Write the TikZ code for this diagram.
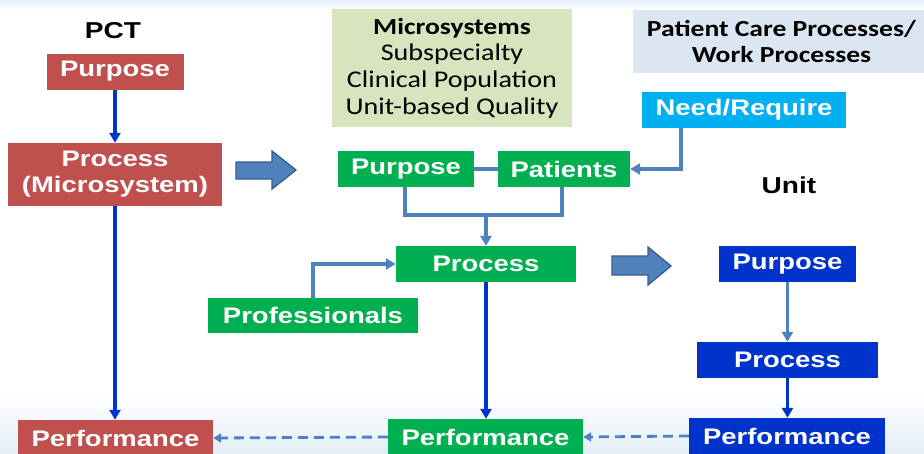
\documentclass[tikz,border=0pt]{standalone}
\usepackage{fontspec}
\usetikzlibrary{arrows.meta}
\newfontfamily\labfont[FakeStretch=1.22]{Liberation Sans}
\newfontfamily\calfont[FakeStretch=1.17]{Carlito}
\newfontfamily\calbfont[FakeStretch=1.2]{Carlito}
\definecolor{pctred}{HTML}{C0504D}
\definecolor{mgreen}{HTML}{00B050}
\definecolor{ncyan}{HTML}{00B0F0}
\definecolor{ublue}{HTML}{0033CC}
\definecolor{lblue}{HTML}{4F81BD}
\definecolor{dblue}{HTML}{385D8A}
\definecolor{olive}{HTML}{D7E4BD}
\definecolor{pale}{HTML}{DCE6F2}
\definecolor{glow}{HTML}{E4EEF8}
\tikzset{
  x=1pt, y=-1pt,
  box/.style={draw=none, inner sep=0pt, text=white, align=center,
    font=\labfont\bfseries\fontsize{22.5}{26}\selectfont, minimum height=36pt},
  redbox/.style={box, fill=pctred},
  greenbox/.style={box, fill=mgreen},
  bluebox/.style={box, fill=ublue},
  title/.style={inner sep=0pt, text=black, font=\labfont\bfseries\fontsize{23}{26}\selectfont},
  darkconn/.style={draw=ublue, line width=3.5pt, -{Triangle[length=10pt,width=11pt]}},
  lightconn/.style={draw=lblue, line width=3.5pt, -{Triangle[length=10pt,width=11pt]}},
  lightline/.style={draw=lblue, line width=3.5pt},
  dashconn/.style={draw=lblue, line width=2.8pt, dash pattern=on 10pt off 6pt, -{Triangle[length=8pt,width=9pt]}},
  blockarrow/.style={fill=lblue, draw=dblue, line width=1.3pt, line join=miter}
}
\begin{document}
\begin{tikzpicture}
\useasboundingbox (0,0) rectangle (924,453);
\fill[white] (0,0) rectangle (924,453);
\shade[top color=glow, bottom color=white] (0,0) rectangle (924,10);
\shade[top color=white, bottom color=glow] (0,395) rectangle (924,453);

% titles
\node[title] (pct) at (113,31) {PCT};
\node[title] (unit) at (789,185) {Unit};

% info boxes
\node[fill=olive, inner sep=0pt, minimum width=240pt, minimum height=118pt, align=center,
  font=\calfont\fontsize{24}{26.7}\selectfont] (micro) at (452,68)
  {{\calbfont\bfseries\fontsize{23}{26.7}\selectfont Microsystems}\\Subspecialty\\Clinical Population\\Unit-based Quality};
\node[fill=pale, inner sep=0pt, minimum width=297pt, minimum height=63pt, align=center,
  font=\calbfont\bfseries\fontsize{23}{26}\selectfont] (pcare) at (781.5,41.5)
  {Patient Care Processes/\\Work Processes};

% PCT column
\node[redbox, minimum width=137pt] (rpurp) at (115,71.5) {Purpose};
\node[redbox, minimum width=214pt, minimum height=63pt] (rproc) at (115,174.5) {Process\\(Microsystem)};
\node[redbox, minimum width=195pt] (rperf) at (115.5,438) {Performance};

% Microsystem column
\node[greenbox, minimum width=136pt] (gpurp) at (406,169) {Purpose};
\node[greenbox, minimum width=132pt] (gpat) at (564,169) {Patients};
\node[box, fill=ncyan, minimum width=204pt] (need) at (744,110) {Need/Require};
\node[greenbox, minimum width=180pt] (gproc) at (486,264) {Process};
\node[greenbox, minimum width=210pt, minimum height=35pt] (gprof) at (313,315.5) {Professionals};
\node[greenbox, minimum width=195pt] (gperf) at (485.5,437) {Performance};

% Unit column
\node[bluebox, minimum width=137pt] (bpurp) at (787.5,264) {Purpose};
\node[bluebox, minimum width=181pt] (bproc) at (787.5,360) {Process};
\node[bluebox, minimum width=196pt] (bperf) at (787,436) {Performance};

% block arrows
\draw[blockarrow] (236,162) -- (272,162) -- (272,151) -- (296,170) -- (272,189) -- (272,179) -- (236,179) -- cycle;
\draw[blockarrow] (612,256) -- (648,256) -- (648,247) -- (671,266) -- (648,285) -- (648,275) -- (612,275) -- cycle;

% connectors
\draw[darkconn] (rpurp.south) -- (rproc.north);
\draw[darkconn] (rproc.south) -- (rproc.south |- rperf.north);
\draw[lightconn] ([xshift=-63pt]need.south) |- (gpat.east);
\draw[lightline] (gpurp.east) -- (gpat.west);
\coordinate (join) at (486,215);
\draw[lightline] ([xshift=-1pt]gpurp.south) |- (join) -| ([xshift=-2pt]gpat.south);
\draw[lightconn] (join) -- (gproc.north);
\draw[lightconn] (gprof.north) |- (gproc.west);
\draw[darkconn] (gproc.south) -- (gproc.south |- gperf.north);
\draw[lightconn] (bpurp.south) -- (bproc.north);
\draw[darkconn] (bproc.south) -- (bproc.south |- bperf.north);
\draw[dashconn] (bperf.west) -- (gperf.east);
\draw[dashconn] (gperf.west) -- (rperf.east);
\end{tikzpicture}
\end{document}
